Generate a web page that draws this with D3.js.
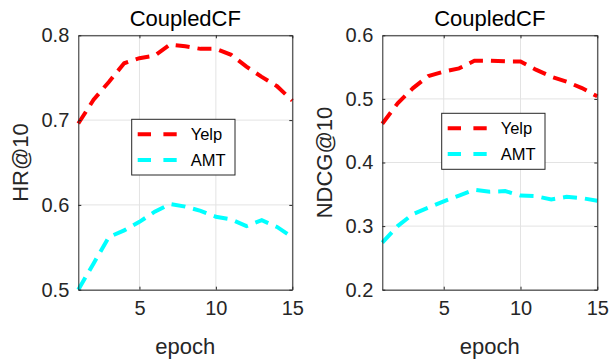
<!DOCTYPE html>
<html>
<head>
<meta charset="utf-8">
<script src="https://cdn.jsdelivr.net/npm/d3@7"></script>
<style>
  body { margin: 0; background: #fff; }
  svg { display: block; font-family: "Liberation Sans", Arial, sans-serif; }
</style>
</head>
<body>
<svg id="chart" width="610" height="363"></svg>
<script>
// Training epochs
const epochs = [1, 2, 3, 4, 5, 6, 7, 8, 9, 10, 11, 12, 13, 14, 15];

// HR@10 per epoch
const hrYelp = [0.696, 0.724, 0.745, 0.767, 0.773, 0.776, 0.789, 0.787, 0.784, 0.784, 0.777, 0.763, 0.751, 0.740, 0.723];
const hrAMT  = [0.500, 0.531, 0.562, 0.570, 0.580, 0.592, 0.601, 0.598, 0.593, 0.586, 0.583, 0.575, 0.582, 0.574, 0.562];

// NDCG@10 per epoch
const ndcgYelp = [0.461, 0.493, 0.517, 0.536, 0.543, 0.548, 0.560, 0.560, 0.559, 0.559, 0.546, 0.535, 0.527, 0.517, 0.504];
const ndcgAMT  = [0.274, 0.300, 0.319, 0.329, 0.339, 0.348, 0.357, 0.354, 0.355, 0.348, 0.347, 0.342, 0.346, 0.344, 0.340];

const xTicks = [5, 10, 15];
const hrTicks = [0.5, 0.6, 0.7, 0.8];
const ndcgTicks = [0.2, 0.3, 0.4, 0.5, 0.6];

const seriesNames = ["Yelp", "AMT"];
const seriesColors = ["#ff0000", "#00ffff"];

const svg = d3.select("#chart");

function panel(cfg) {
  const { left, right, top, bottom, yDomain, yTicks, yLabel, yLabelX, data, legend } = cfg;
  const g = svg.append("g");
  const x = d3.scaleLinear().domain([1, 15]).range([left, right]);
  const y = d3.scaleLinear().domain(yDomain).range([bottom, top]);

  // grid
  g.append("g").selectAll("line").data(xTicks).join("line")
    .attr("x1", d => x(d)).attr("x2", d => x(d))
    .attr("y1", top).attr("y2", bottom)
    .attr("stroke", "#e3e3e3").attr("stroke-width", 1);
  g.append("g").selectAll("line").data(yTicks).join("line")
    .attr("x1", left).attr("x2", right)
    .attr("y1", d => y(d)).attr("y2", d => y(d))
    .attr("stroke", "#e3e3e3").attr("stroke-width", 1);

  // series
  const line = d3.line().x((d, i) => x(epochs[i])).y(d => y(d));
  data.forEach((vals, k) => {
    g.append("path").datum(vals)
      .attr("d", line)
      .attr("fill", "none")
      .attr("stroke", seriesColors[k])
      .attr("stroke-width", 4)
      .attr("stroke-dasharray", "14,8");
  });

  // axes (ticks pointing inward, box frame)
  const fmt = d3.format(".1f");
  const xAxis = d3.axisBottom(x).tickValues(xTicks).tickSize(-3).tickPadding(11).tickSizeOuter(0);
  const yAxis = d3.axisLeft(y).tickValues(yTicks).tickFormat(fmt).tickSize(-3).tickPadding(9).tickSizeOuter(0);
  const xa = g.append("g").attr("transform", `translate(0,${bottom})`).call(xAxis);
  const ya = g.append("g").attr("transform", `translate(${left},0)`).call(yAxis);
  const xTop = g.append("g").attr("transform", `translate(0,${top})`)
    .call(d3.axisTop(x).tickValues(xTicks).tickSize(-3).tickFormat("").tickSizeOuter(0));
  const yRight = g.append("g").attr("transform", `translate(${right},0)`)
    .call(d3.axisRight(y).tickValues(yTicks).tickSize(-3).tickFormat("").tickSizeOuter(0));
  [xa, ya, xTop, yRight].forEach(a => {
    a.select(".domain").attr("stroke", "#262626");
    a.selectAll(".tick line").attr("stroke", "#262626");
    a.selectAll(".tick text").attr("fill", "#262626").style("font-size", "20px")
      .style("font-family", "'Liberation Sans', Arial, sans-serif");
  });

  // title and axis labels
  g.append("text").attr("x", (left + right) / 2).attr("y", 26)
    .attr("text-anchor", "middle").attr("fill", "#000").style("font-size", "22px")
    .text("CoupledCF");
  g.append("text").attr("x", (left + right) / 2).attr("y", 354)
    .attr("text-anchor", "middle").attr("fill", "#262626").style("font-size", "22px")
    .text("epoch");
  g.append("text")
    .attr("transform", `translate(${yLabelX},${(top + bottom) / 2}) rotate(-90)`)
    .attr("text-anchor", "middle").attr("fill", "#262626").style("font-size", "22px")
    .text(yLabel);

  // legend
  const lg = g.append("g").attr("transform", `translate(${legend.x},${legend.y})`);
  lg.append("rect").attr("width", legend.w).attr("height", legend.h)
    .attr("fill", "#fff").attr("stroke", "#262626").attr("stroke-width", 1);
  seriesNames.forEach((name, k) => {
    const yy = 15 + k * 25.7;
    lg.append("line").attr("x1", 6).attr("x2", 45).attr("y1", yy).attr("y2", yy)
      .attr("stroke", seriesColors[k]).attr("stroke-width", 4)
      .attr("stroke-dasharray", "13.3,12.4");
    lg.append("text").attr("x", 59).attr("y", yy + 6).attr("fill", "#000")
      .style("font-size", "16.5px").text(name);
  });
}

panel({
  left: 78.3, right: 292.3, top: 35.3, bottom: 289.7,
  yDomain: [0.5, 0.8], yTicks: hrTicks, yLabel: "HR@10", yLabelX: 28,
  data: [hrYelp, hrAMT],
  legend: { x: 131.7, y: 119.3, w: 103.3, h: 55.7 }
});

panel({
  left: 382.3, right: 597.3, top: 35.3, bottom: 289.7,
  yDomain: [0.2, 0.6], yTicks: ndcgTicks, yLabel: "NDCG@10", yLabelX: 332,
  data: [ndcgYelp, ndcgAMT],
  legend: { x: 441.7, y: 113.3, w: 103.3, h: 56 }
});
</script>
</body>
</html>
